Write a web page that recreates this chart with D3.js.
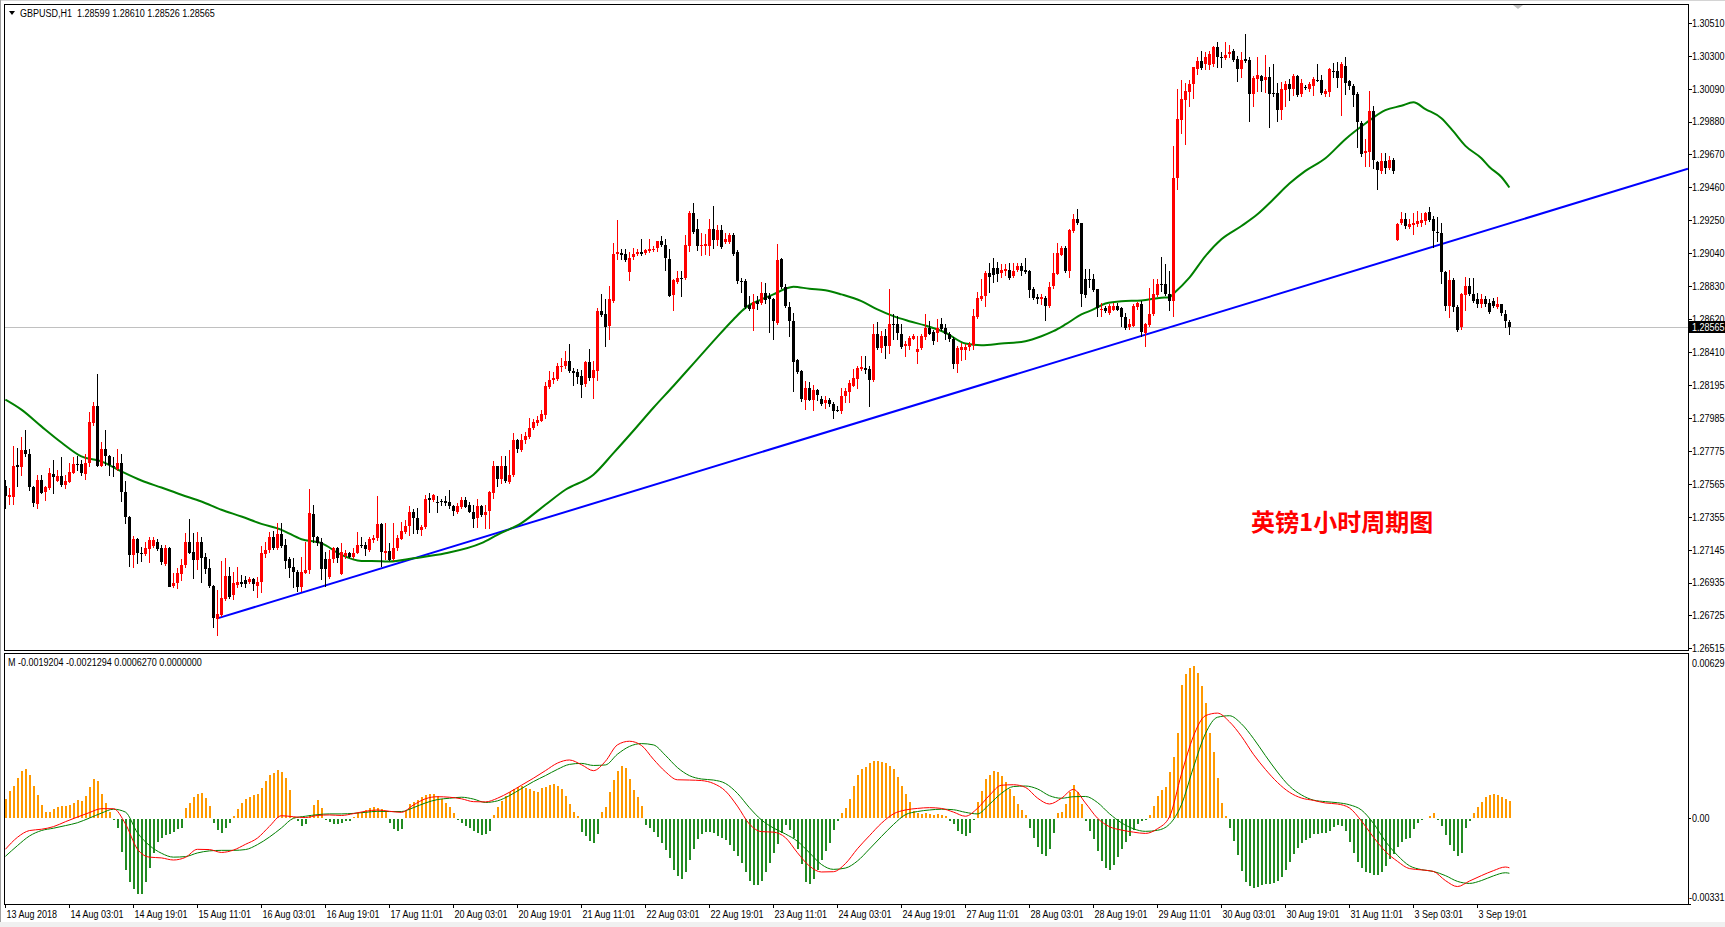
<!DOCTYPE html>
<html>
<head>
<meta charset="utf-8">
<script src="https://cdn.jsdelivr.net/npm/d3@7"></script>
<style>
  body { margin: 0; background: #fff; }
  svg { display: block; }
</style>
</head>
<body>
<svg id="chart" width="1725" height="927"></svg>
<script>
// GBPUSD H1 bars, 13 Aug 11:00 -> 4 Sep 03:00
const opens = [
1.27549,1.27481,1.27485,1.27688,1.27673,1.27779,1.27756,1.27543,1.27438,1.27592,
1.27511,1.27538,1.27630,1.27587,1.27617,1.27564,1.27581,1.27639,1.27694,1.27694,
1.27628,1.27698,1.27959,1.28065,1.27681,1.27788,1.27741,1.27681,1.27666,1.27698,
1.27511,1.27357,1.27112,1.27212,1.27127,1.27118,1.27148,1.27169,1.27197,1.27154,
1.27058,1.27159,1.26913,1.26930,1.26990,1.27048,1.27197,1.27133,1.27080,1.27197,
1.27097,1.27026,1.26913,1.26700,1.26728,1.26828,1.26977,1.26856,1.26920,1.26941,
1.26952,1.26939,1.26956,1.26913,1.26935,1.27118,1.27139,1.27229,1.27154,1.27246,
1.27176,1.27084,1.27033,1.27003,1.26909,1.26999,1.27011,1.27374,1.27229,1.27191,
1.27084,1.26969,1.27084,1.27154,1.26994,1.27101,1.27127,1.27101,1.27127,1.27176,
1.27174,1.27144,1.27208,1.27218,1.27310,1.27126,1.27139,1.27084,1.27154,1.27218,
1.27261,1.27293,1.27383,1.27346,1.27267,1.27289,1.27474,1.27463,1.27447,1.27459,
1.27453,1.27447,1.27421,1.27389,1.27417,1.27463,1.27432,1.27389,1.27346,1.27425,
1.27368,1.27389,1.27506,1.27677,1.27592,1.27677,1.27581,1.27617,1.27843,1.27784,
1.27843,1.27865,1.27922,1.27954,1.27971,1.28008,1.28189,1.28232,1.28236,1.28313,
1.28317,1.28349,1.28285,1.28279,1.28257,1.28200,1.28342,1.28242,1.28285,1.28669,
1.28654,1.28573,1.28733,1.29032,1.29042,1.29032,1.28921,1.29010,1.29032,1.29047,
1.29038,1.29053,1.29059,1.29068,1.29117,1.29089,1.29004,1.28769,1.28855,1.28882,
1.28876,1.29085,1.29298,1.29192,1.29081,1.29085,1.29085,1.29196,1.29123,1.29187,
1.29111,1.29111,1.29153,1.29047,1.28861,1.28861,1.28706,1.28680,1.28733,1.28722,
1.28786,1.28765,1.28744,1.28599,1.29004,1.28825,1.28697,1.28605,1.28355,1.28285,
1.28104,1.28178,1.28104,1.28163,1.28108,1.28078,1.28099,1.28078,1.28040,1.28035,
1.28125,1.28151,1.28189,1.28236,1.28300,1.28306,1.28300,1.28232,1.28526,1.28434,
1.28509,1.28445,1.28584,1.28584,1.28526,1.28441,1.28449,1.28492,1.28407,1.28434,
1.28505,1.28562,1.28534,1.28530,1.28590,1.28562,1.28520,1.28492,1.28334,1.28424,
1.28419,1.28434,1.28449,1.28633,1.28748,1.28765,1.28910,1.28946,1.28946,1.28910,
1.28925,1.28931,1.28893,1.28931,1.28957,1.28931,1.28925,1.28812,1.28761,1.28748,
1.28754,1.28701,1.28825,1.28910,1.29032,1.29074,1.28925,1.29181,1.29256,1.29230,
1.28876,1.28876,1.28876,1.28808,1.28680,1.28690,1.28658,1.28680,1.28705,1.28690,
1.28633,1.28562,1.28577,1.28690,1.28712,1.28531,1.28584,1.28648,1.28771,1.28844,
1.28844,1.28780,1.28737,1.29518,1.29889,1.30017,1.30066,1.30115,1.30216,1.30269,
1.30248,1.30243,1.30243,1.30354,1.30295,1.30286,1.30307,1.30329,1.30280,1.30216,
1.30280,1.30273,1.30056,1.30152,1.30173,1.30141,1.30167,1.30060,1.30060,1.29953,
1.30081,1.30120,1.30088,1.30173,1.30051,1.30098,1.30088,1.30109,1.30145,1.30145,
1.30060,1.30066,1.30205,1.30205,1.30158,1.30237,1.30137,1.30109,1.30056,1.29874,
1.29682,1.29682,1.29945,1.29619,1.29565,1.29629,1.29582,1.29633,1.29128,1.29228,
1.29256,1.29207,1.29224,1.29228,1.29228,1.29245,1.29305,1.29256,1.29177,1.29171,
1.28921,1.28701,1.28865,1.28695,1.28567,1.28771,1.28829,1.28780,1.28744,1.28712,
1.28744,1.28722,1.28733,1.28695,1.28712,1.28652,1.28599
];
const highs = [
1.27592,1.27538,1.27809,1.27794,1.27865,1.27907,1.27788,1.27553,1.27624,1.27624,
1.27553,1.27666,1.27720,1.27656,1.27737,1.27624,1.27702,1.27737,1.27745,1.27720,
1.27758,1.28027,1.28091,1.28270,1.27831,1.27907,1.27752,1.27737,1.27788,1.27754,
1.27581,1.27361,1.27233,1.27218,1.27161,1.27191,1.27229,1.27229,1.27212,1.27176,
1.27176,1.27165,1.26994,1.27026,1.27084,1.27250,1.27340,1.27250,1.27255,1.27225,
1.27127,1.27084,1.26920,1.26888,1.27075,1.27090,1.27037,1.27003,1.27033,1.26984,
1.26977,1.26969,1.26962,1.26969,1.27169,1.27197,1.27255,1.27267,1.27314,1.27314,
1.27212,1.27101,1.27090,1.27016,1.27101,1.27197,1.27532,1.27432,1.27233,1.27218,
1.27133,1.27144,1.27165,1.27165,1.27186,1.27144,1.27133,1.27154,1.27255,1.27229,
1.27197,1.27225,1.27240,1.27485,1.27318,1.27314,1.27186,1.27314,1.27239,1.27325,
1.27335,1.27425,1.27404,1.27410,1.27304,1.27496,1.27506,1.27502,1.27485,1.27468,
1.27485,1.27528,1.27432,1.27442,1.27480,1.27480,1.27447,1.27432,1.27468,1.27432,
1.27432,1.27517,1.27709,1.27681,1.27745,1.27741,1.27784,1.27890,1.27852,1.27886,
1.27895,1.27986,1.27980,1.28001,1.28040,1.28214,1.28285,1.28279,1.28338,1.28370,
1.28413,1.28456,1.28306,1.28300,1.28296,1.28349,1.28428,1.28349,1.28690,1.28776,
1.28744,1.28829,1.29106,1.29251,1.29064,1.29068,1.29047,1.29074,1.29068,1.29132,
1.29068,1.29128,1.29085,1.29117,1.29149,1.29128,1.29064,1.28876,1.28925,1.28925,
1.29153,1.29309,1.29362,1.29260,1.29170,1.29160,1.29260,1.29341,1.29217,1.29217,
1.29170,1.29170,1.29166,1.29059,1.28882,1.28872,1.28765,1.28776,1.28769,1.28855,
1.28850,1.28786,1.28754,1.29096,1.29010,1.28840,1.28727,1.28658,1.28364,1.28291,
1.28221,1.28215,1.28200,1.28172,1.28125,1.28125,1.28114,1.28087,1.28065,1.28178,
1.28178,1.28232,1.28300,1.28321,1.28385,1.28381,1.28317,1.28584,1.28599,1.28541,
1.28552,1.28808,1.28648,1.28637,1.28590,1.28477,1.28513,1.28520,1.28509,1.28520,
1.28648,1.28605,1.28547,1.28620,1.28626,1.28584,1.28534,1.28505,1.28449,1.28466,
1.28462,1.28471,1.28680,1.28791,1.28872,1.28925,1.28978,1.29010,1.28983,1.28968,
1.28968,1.28974,1.28978,1.28974,1.28978,1.29010,1.28931,1.28825,1.28776,1.28776,
1.28765,1.28855,1.29042,1.29102,1.29085,1.29085,1.29196,1.29288,1.29320,1.29234,
1.28940,1.28936,1.28904,1.28812,1.28718,1.28701,1.28712,1.28718,1.28718,1.28697,
1.28658,1.28616,1.28712,1.28727,1.28733,1.28595,1.28818,1.28872,1.28872,1.29015,
1.28968,1.28925,1.29725,1.30088,1.30145,1.30124,1.30145,1.30231,1.30290,1.30333,
1.30322,1.30333,1.30365,1.30386,1.30322,1.30386,1.30371,1.30344,1.30301,1.30322,
1.30440,1.30290,1.30173,1.30290,1.30179,1.30307,1.30226,1.30248,1.30124,1.30130,
1.30141,1.30152,1.30184,1.30179,1.30152,1.30115,1.30130,1.30162,1.30248,1.30179,
1.30088,1.30222,1.30252,1.30258,1.30258,1.30290,1.30145,1.30120,1.30066,1.29885,
1.29767,1.30077,1.29981,1.29629,1.29682,1.29682,1.29661,1.29646,1.29234,1.29305,
1.29298,1.29256,1.29298,1.29309,1.29298,1.29305,1.29335,1.29277,1.29271,1.29234,
1.28925,1.28929,1.28878,1.28707,1.28786,1.28886,1.28882,1.28878,1.28786,1.28780,
1.28765,1.28744,1.28750,1.28759,1.28716,1.28674,1.28610
];
const lows = [
1.27410,1.27438,1.27438,1.27549,1.27624,1.27741,1.27528,1.27421,1.27410,1.27506,
1.27464,1.27532,1.27506,1.27581,1.27553,1.27538,1.27575,1.27634,1.27656,1.27624,
1.27596,1.27681,1.27944,1.27677,1.27677,1.27688,1.27624,1.27613,1.27656,1.27453,
1.27314,1.27041,1.27033,1.27063,1.27075,1.27112,1.27069,1.27165,1.27144,1.27054,
1.27048,1.26910,1.26909,1.26898,1.26952,1.27037,1.27122,1.26962,1.27020,1.26941,
1.26994,1.26909,1.26653,1.26600,1.26721,1.26824,1.26834,1.26828,1.26909,1.26913,
1.26909,1.26935,1.26888,1.26841,1.26877,1.27101,1.27133,1.27148,1.27148,1.27165,
1.27026,1.26969,1.26909,1.26883,1.26883,1.26994,1.26994,1.27197,1.27176,1.26956,
1.26913,1.26962,1.27069,1.27069,1.26990,1.27090,1.27097,1.27090,1.27122,1.27165,
1.27112,1.27139,1.27191,1.27208,1.27041,1.27084,1.27079,1.27079,1.27144,1.27212,
1.27250,1.27239,1.27250,1.27250,1.27239,1.27282,1.27389,1.27453,1.27389,1.27432,
1.27432,1.27410,1.27368,1.27378,1.27410,1.27417,1.27383,1.27289,1.27289,1.27361,
1.27282,1.27282,1.27474,1.27549,1.27570,1.27575,1.27570,1.27613,1.27767,1.27773,
1.27826,1.27858,1.27916,1.27944,1.27965,1.27986,1.28178,1.28210,1.28232,1.28285,
1.28306,1.28279,1.28200,1.28210,1.28121,1.28189,1.28232,1.28114,1.28227,1.28637,
1.28445,1.28488,1.28727,1.29000,1.29000,1.28989,1.28867,1.29004,1.29025,1.29025,
1.29032,1.29047,1.29053,1.29053,1.29085,1.28931,1.28765,1.28675,1.28850,1.28769,
1.28872,1.29053,1.29170,1.29059,1.29025,1.29032,1.29025,1.29074,1.29089,1.29074,
1.29102,1.29106,1.29025,1.28850,1.28791,1.28690,1.28675,1.28547,1.28680,1.28712,
1.28722,1.28534,1.28492,1.28590,1.28818,1.28697,1.28513,1.28157,1.28274,1.28097,
1.28044,1.28099,1.28035,1.28104,1.28072,1.28050,1.28065,1.27986,1.28029,1.28018,
1.28087,1.28087,1.28189,1.28178,1.28296,1.28274,1.28065,1.28221,1.28428,1.28407,
1.28370,1.28402,1.28492,1.28488,1.28434,1.28385,1.28428,1.28488,1.28338,1.28428,
1.28492,1.28520,1.28456,1.28477,1.28547,1.28488,1.28477,1.28306,1.28278,1.28360,
1.28364,1.28424,1.28428,1.28626,1.28739,1.28705,1.28791,1.28855,1.28861,1.28889,
1.28897,1.28876,1.28889,1.28925,1.28897,1.28910,1.28761,1.28744,1.28718,1.28712,
1.28611,1.28697,1.28818,1.28904,1.29025,1.28919,1.28889,1.29175,1.29224,1.28701,
1.28761,1.28825,1.28797,1.28641,1.28637,1.28663,1.28654,1.28675,1.28675,1.28573,
1.28556,1.28556,1.28573,1.28684,1.28509,1.28445,1.28573,1.28643,1.28765,1.28797,
1.28771,1.28674,1.28637,1.29448,1.29810,1.29736,1.29981,1.30034,1.30184,1.30216,
1.30216,1.30216,1.30237,1.30231,1.30226,1.30280,1.30295,1.30269,1.30141,1.30167,
1.30258,1.29885,1.29981,1.30077,1.30077,1.30066,1.29847,1.30045,1.29881,1.29896,
1.29981,1.30017,1.30051,1.30045,1.30045,1.30088,1.30077,1.30051,1.30137,1.30056,
1.30045,1.30045,1.30162,1.30098,1.29923,1.30056,1.30088,1.29981,1.29719,1.29661,
1.29597,1.29597,1.29586,1.29448,1.29554,1.29554,1.29576,1.29554,1.29121,1.29224,
1.29202,1.29198,1.29164,1.29213,1.29213,1.29228,1.29245,1.29079,1.29117,1.28850,
1.28674,1.28631,1.28669,1.28541,1.28552,1.28674,1.28771,1.28729,1.28695,1.28695,
1.28701,1.28658,1.28695,1.28686,1.28643,1.28567,1.28526
];
const closes = [
1.27485,1.27496,1.27681,1.27673,1.27779,1.27756,1.27543,1.27438,1.27592,1.27511,
1.27543,1.27634,1.27609,1.27617,1.27560,1.27587,1.27643,1.27694,1.27690,1.27634,
1.27698,1.27963,1.28065,1.27681,1.27788,1.27741,1.27681,1.27677,1.27702,1.27511,
1.27351,1.27112,1.27212,1.27122,1.27118,1.27154,1.27208,1.27208,1.27154,1.27063,
1.27159,1.26913,1.26935,1.26994,1.27048,1.27197,1.27127,1.27080,1.27197,1.27097,
1.27020,1.26913,1.26706,1.26734,1.26834,1.26977,1.26845,1.26935,1.26939,1.26930,
1.26926,1.26956,1.26926,1.26941,1.27122,1.27144,1.27225,1.27161,1.27246,1.27169,
1.27075,1.27026,1.26999,1.26909,1.27005,1.27016,1.27378,1.27229,1.27191,1.27020,
1.27020,1.27084,1.27154,1.27090,1.27133,1.27122,1.27101,1.27127,1.27176,1.27172,
1.27148,1.27212,1.27222,1.27310,1.27133,1.27139,1.27084,1.27154,1.27218,1.27267,
1.27297,1.27383,1.27346,1.27267,1.27289,1.27468,1.27463,1.27496,1.27438,1.27455,
1.27442,1.27421,1.27389,1.27425,1.27463,1.27421,1.27389,1.27346,1.27421,1.27368,
1.27389,1.27511,1.27677,1.27592,1.27677,1.27581,1.27624,1.27843,1.27784,1.27848,
1.27869,1.27922,1.27958,1.27976,1.28014,1.28193,1.28232,1.28242,1.28317,1.28321,
1.28349,1.28285,1.28270,1.28249,1.28200,1.28342,1.28242,1.28296,1.28669,1.28641,
1.28573,1.28744,1.29032,1.29047,1.29032,1.28995,1.29010,1.29032,1.29047,1.29032,
1.29057,1.29064,1.29068,1.29115,1.29089,1.29004,1.28769,1.28867,1.28882,1.28876,
1.29089,1.29298,1.29175,1.29081,1.29089,1.29096,1.29196,1.29128,1.29187,1.29081,
1.29128,1.29153,1.29032,1.28861,1.28859,1.28698,1.28680,1.28727,1.28712,1.28786,
1.28744,1.28744,1.28605,1.28999,1.28825,1.28701,1.28605,1.28343,1.28278,1.28104,
1.28178,1.28104,1.28168,1.28129,1.28078,1.28099,1.28072,1.28035,1.28035,1.28129,
1.28157,1.28210,1.28242,1.28306,1.28313,1.28291,1.28232,1.28526,1.28434,1.28509,
1.28445,1.28584,1.28580,1.28526,1.28445,1.28456,1.28498,1.28509,1.28428,1.28509,
1.28562,1.28526,1.28477,1.28562,1.28556,1.28526,1.28488,1.28334,1.28434,1.28441,
1.28441,1.28456,1.28637,1.28754,1.28769,1.28910,1.28882,1.28904,1.28910,1.28931,
1.28936,1.28882,1.28925,1.28957,1.28925,1.28919,1.28803,1.28754,1.28748,1.28761,
1.28701,1.28825,1.28910,1.29042,1.29074,1.28925,1.29187,1.29256,1.29230,1.28776,
1.28776,1.28872,1.28803,1.28684,1.28684,1.28669,1.28701,1.28705,1.28680,1.28633,
1.28562,1.28584,1.28705,1.28718,1.28530,1.28588,1.28652,1.28776,1.28844,1.28840,
1.28780,1.28737,1.29522,1.29896,1.30024,1.30077,1.30120,1.30226,1.30269,1.30226,
1.30290,1.30312,1.30354,1.30290,1.30293,1.30307,1.30322,1.30273,1.30216,1.30273,
1.30265,1.30056,1.30158,1.30179,1.30141,1.30162,1.30056,1.30056,1.29953,1.30088,
1.30120,1.30088,1.30173,1.30051,1.30124,1.30094,1.30120,1.30152,1.30141,1.30060,
1.30077,1.30216,1.30201,1.30158,1.30248,1.30130,1.30103,1.30051,1.29874,1.29676,
1.29693,1.29945,1.29629,1.29565,1.29629,1.29582,1.29633,1.29565,1.29228,1.29256,
1.29213,1.29224,1.29234,1.29245,1.29250,1.29298,1.29256,1.29177,1.29175,1.28921,
1.28701,1.28865,1.28695,1.28546,1.28776,1.28829,1.28780,1.28737,1.28712,1.28744,
1.28712,1.28665,1.28701,1.28716,1.28652,1.28605,1.28565
];

// moving average (green), read at these bars
const maBars = [0,4,9,14,19,24,29,34,39,44,49,54,59,64,69,74,79,84,89,94,96,102,110,119,123,129,135,140,147,152,157,162,167,172,177,182,185,189,192,195,197,201,205,209,214,218,222,226,230,235,240,244,249,255,259,262,265,269,272,275,279,284,289,291,292,296,300,304,309,313,317,321,325,330,335,340,345,349,352,355,359,362,365,369,371,374,376];
const maValues = [1.28104,1.28040,1.27933,1.27830,1.27741,1.27709,1.27645,1.27587,1.27542,1.27496,1.27453,1.27400,1.27357,1.27310,1.27272,1.27212,1.27187,1.27112,1.27073,1.27071,1.27069,1.27090,1.27122,1.27187,1.27240,1.27315,1.27432,1.27528,1.27624,1.27762,1.27905,1.28052,1.28191,1.28334,1.28477,1.28616,1.28690,1.28744,1.28776,1.28812,1.28825,1.28812,1.28803,1.28776,1.28733,1.28680,1.28637,1.28605,1.28577,1.28531,1.28462,1.28451,1.28462,1.28477,1.28509,1.28541,1.28584,1.28648,1.28680,1.28718,1.28733,1.28737,1.28755,1.28758,1.28780,1.28883,1.29021,1.29128,1.29213,1.29288,1.29384,1.29484,1.29565,1.29646,1.29768,1.29868,1.29953,1.29981,1.30003,1.29960,1.29902,1.29817,1.29725,1.29646,1.29590,1.29526,1.29459];

// blue trend line anchors
const trendBars = [53, 376];
const trendPrices = [1.26706, 1.29230];

// MACD histogram, one value per bar
const histValues = [
0.00072,0.00102,0.00124,0.00151,0.00178,0.00189,0.00166,0.00122,0.00087,0.00051,
0.00024,0.00024,0.00032,0.00040,0.00045,0.00047,0.00050,0.00058,0.00067,0.00065,
0.00084,0.00120,0.00150,0.00141,0.00093,0.00055,0.00023,-0.00005,-0.00035,-0.00127,
-0.00196,-0.00242,-0.00270,-0.00288,-0.00288,-0.00241,-0.00188,-0.00133,-0.00090,-0.00072,
-0.00061,-0.00058,-0.00051,-0.00041,-0.00035,0.00036,0.00056,0.00078,0.00093,0.00095,
0.00077,0.00047,-0.00015,-0.00044,-0.00054,-0.00036,-0.00015,0.00008,0.00032,0.00055,
0.00072,0.00081,0.00087,0.00092,0.00113,0.00140,0.00163,0.00173,0.00182,0.00174,
0.00154,0.00106,0.00004,-0.00009,-0.00029,-0.00019,0.00012,0.00049,0.00068,0.00037,
-0.00003,-0.00014,-0.00020,-0.00020,-0.00015,-0.00010,-0.00008,0.00004,0.00018,0.00023,
0.00029,0.00038,0.00040,0.00036,0.00033,0.00023,-0.00015,-0.00038,-0.00047,-0.00041,
0.00026,0.00052,0.00060,0.00069,0.00078,0.00086,0.00093,0.00091,0.00084,0.00072,
0.00056,0.00040,0.00020,-0.00003,-0.00017,-0.00027,-0.00037,-0.00047,-0.00056,-0.00061,
-0.00059,-0.00047,0.00010,0.00042,0.00063,0.00083,0.00099,0.00109,0.00119,0.00124,
0.00116,0.00109,0.00104,0.00101,0.00113,0.00118,0.00125,0.00128,0.00123,0.00110,
0.00083,0.00052,0.00024,0.00008,-0.00051,-0.00067,-0.00087,-0.00092,-0.00060,0.00022,
0.00042,0.00101,0.00146,0.00180,0.00198,0.00192,0.00150,0.00108,0.00078,0.00045,
-0.00022,-0.00037,-0.00052,-0.00068,-0.00092,-0.00118,-0.00150,-0.00196,-0.00221,-0.00230,
-0.00204,-0.00159,-0.00116,-0.00076,-0.00058,-0.00050,-0.00050,-0.00056,-0.00067,-0.00072,
-0.00082,-0.00102,-0.00124,-0.00142,-0.00169,-0.00205,-0.00238,-0.00255,-0.00253,-0.00237,
-0.00205,-0.00169,-0.00132,-0.00095,-0.00054,-0.00022,-0.00042,-0.00072,-0.00115,-0.00175,
-0.00241,-0.00251,-0.00233,-0.00198,-0.00159,-0.00123,-0.00092,-0.00044,-0.00009,0.00017,
0.00036,0.00074,0.00122,0.00163,0.00186,0.00196,0.00209,0.00218,0.00219,0.00214,
0.00210,0.00200,0.00187,0.00157,0.00124,0.00092,0.00061,0.00027,0.00017,0.00014,
0.00017,0.00014,0.00010,0.00013,0.00009,0.00006,-0.00009,-0.00019,-0.00045,-0.00060,
-0.00065,-0.00054,-0.00003,0.00060,0.00102,0.00150,0.00166,0.00178,0.00177,0.00160,
0.00136,0.00109,0.00083,0.00054,0.00029,0.00010,-0.00035,-0.00072,-0.00108,-0.00136,
-0.00142,-0.00115,-0.00054,0.00017,0.00023,0.00054,0.00100,0.00125,0.00099,0.00052,
-0.00009,-0.00046,-0.00079,-0.00122,-0.00163,-0.00188,-0.00195,-0.00179,-0.00148,-0.00116,
-0.00090,-0.00067,-0.00044,-0.00020,-0.00009,-0.00003,0.00010,0.00045,0.00082,0.00108,
0.00118,0.00177,0.00234,0.00324,0.00509,0.00554,0.00577,0.00584,0.00557,0.00506,
0.00439,0.00324,0.00253,0.00151,0.00058,0.00008,-0.00035,-0.00087,-0.00140,-0.00201,
-0.00241,-0.00259,-0.00265,-0.00260,-0.00255,-0.00252,-0.00251,-0.00246,-0.00239,-0.00223,
-0.00196,-0.00164,-0.00134,-0.00113,-0.00092,-0.00082,-0.00072,-0.00060,-0.00058,-0.00054,
-0.00054,-0.00045,-0.00031,-0.00023,-0.00028,-0.00047,-0.00088,-0.00131,-0.00164,-0.00189,
-0.00205,-0.00210,-0.00216,-0.00216,-0.00204,-0.00182,-0.00156,-0.00134,-0.00110,-0.00088,
-0.00079,-0.00073,-0.00041,-0.00018,-0.00006,0,0.00006,0.00020,-0.00003,-0.00028,
-0.00061,-0.00101,-0.00122,-0.00143,-0.00131,-0.00035,-0.00009,0.00017,0.00040,0.00060,
0.00081,0.00086,0.00090,0.00088,0.00081,0.00074,0.00063
];

// MACD (red) and signal (green) lines, read every third bar
const lineBars = d3.range(0, 376, 3).concat([376]);
const macdValues = [
-0.00121,-0.00075,-0.00049,-0.00044,-0.00034,-0.00015,0.00003,0.00020,0.00035,0.00035,
-0.00023,-0.00120,-0.00151,-0.00154,-0.00162,-0.00152,-0.00121,-0.00122,-0.00133,-0.00124,
-0.00102,-0.00078,-0.00033,0.00008,0.00004,0.00001,0.00009,0.00011,0.00009,0.00016,
0.00025,0.00030,0.00025,0.00021,0.00049,0.00073,0.00081,0.00079,0.00073,0.00062,
0.00061,0.00075,0.00098,0.00125,0.00152,0.00181,0.00210,0.00222,0.00204,0.00181,
0.00217,0.00280,0.00294,0.00278,0.00225,0.00177,0.00146,0.00145,0.00143,0.00132,
0.00103,0.00045,-0.00024,-0.00053,-0.00055,-0.00076,-0.00134,-0.00185,-0.00208,-0.00207,
-0.00176,-0.00119,-0.00069,-0.00021,0.00015,0.00030,0.00036,0.00039,0.00036,0.00022,
0.00006,0.00036,0.00086,0.00125,0.00127,0.00117,0.00076,0.00053,0.00075,0.00109,
0.00057,-0.00001,-0.00034,-0.00047,-0.00055,-0.00060,-0.00042,0.00003,0.00167,0.00313,
0.00392,0.00402,0.00369,0.00313,0.00244,0.00186,0.00136,0.00098,0.00076,0.00067,
0.00057,0.00053,0.00038,-0.00012,-0.00074,-0.00129,-0.00167,-0.00195,-0.00200,-0.00206,
-0.00241,-0.00264,-0.00243,-0.00222,-0.00203,-0.00189,-0.00192
];
const signalValues = [
-0.00148,-0.00107,-0.00070,-0.00049,-0.00040,-0.00030,-0.00019,-0.00001,0.00018,0.00033,
0.00022,-0.00057,-0.00106,-0.00136,-0.00151,-0.00149,-0.00135,-0.00127,-0.00125,-0.00125,
-0.00122,-0.00103,-0.00074,-0.00039,-0.00002,0.00006,0.00012,0.00015,0.00015,0.00017,
0.00021,0.00025,0.00024,0.00024,0.00039,0.00057,0.00070,0.00075,0.00079,0.00072,
0.00059,0.00065,0.00085,0.00112,0.00139,0.00162,0.00186,0.00205,0.00209,0.00201,
0.00203,0.00244,0.00274,0.00285,0.00280,0.00240,0.00193,0.00162,0.00149,0.00145,
0.00132,0.00094,0.00039,-0.00008,-0.00039,-0.00062,-0.00090,-0.00134,-0.00179,-0.00198,
-0.00193,-0.00166,-0.00120,-0.00072,-0.00026,0.00012,0.00024,0.00030,0.00033,0.00031,
0.00021,0.00015,0.00052,0.00094,0.00120,0.00122,0.00111,0.00085,0.00075,0.00081,
0.00082,0.00059,0.00016,-0.00019,-0.00042,-0.00052,-0.00048,-0.00025,0.00050,0.00193,
0.00323,0.00386,0.00392,0.00361,0.00305,0.00239,0.00176,0.00122,0.00088,0.00068,
0.00062,0.00058,0.00050,0.00030,-0.00021,-0.00090,-0.00144,-0.00184,-0.00199,-0.00206,
-0.00222,-0.00244,-0.00252,-0.00241,-0.00223,-0.00211,-0.00213
];

const priceTicks = [1.30510,1.30300,1.30090,1.29880,1.29670,1.29460,1.29250,1.29040,1.28830,1.28620,1.28410,1.28195,1.27985,1.27775,1.27565,1.27355,1.27145,1.26935,1.26725,1.26515];
const macdTicks = [0.00629, 0, -0.00331];
const macdTickLabels = ["0.00629", "0.00", "-0.00331"];

const timeTickBars = [0,16,32,48,64,80,96,112,128,144,160,176,192,208,224,240,256,272,288,304,320,336,352,368];
const timeTickLabels = ["13 Aug 2018","14 Aug 03:01","14 Aug 19:01","15 Aug 11:01","16 Aug 03:01","16 Aug 19:01","17 Aug 11:01","20 Aug 03:01","20 Aug 19:01","21 Aug 11:01","22 Aug 03:01","22 Aug 19:01","23 Aug 11:01","24 Aug 03:01","24 Aug 19:01","27 Aug 11:01","28 Aug 03:01","28 Aug 19:01","29 Aug 11:01","30 Aug 03:01","30 Aug 19:01","31 Aug 11:01","3 Sep 03:01","3 Sep 19:01"];

// layout
const W = 1725, H = 927;
const left = 4, right = 1688;
const mainTop = 4, mainBottom = 650;
const macdTop = 653, macdBottom = 904;

const svg = d3.select("#chart").attr("width", W).attr("height", H)
  .style("font-family", "'Liberation Sans', Arial, sans-serif");

svg.append("rect").attr("width", W).attr("height", H).attr("fill", "#fff");

// scales
const x = d3.scaleLinear().domain([0, 376]).range([5.4, 1509.4]);
const y = d3.scaleLinear().domain([1.26515, 1.30510]).range([648.3, 23]);
const ym = d3.scaleLinear().domain([-0.00331, 0.00629]).range([904, 654]);
const px = i => Math.floor(x(i)) + 0.5;

// narrow text, like the terminal's small font
function label(g, tx, ty, str, fill, mid) {
  const t = g.append("text")
    .attr("transform", `translate(${tx},${ty}) scale(0.82,1)`)
    .attr("font-size", 11).attr("fill", fill || "#000").text(str);
  if (mid) t.attr("dy", "0.35em");
  return t;
}

// window edges
svg.append("line").attr("x1", 0).attr("x2", W).attr("y1", 0.5).attr("y2", 0.5).attr("stroke", "#d4d4d4");
svg.append("line").attr("x1", 0.5).attr("x2", 0.5).attr("y1", 0).attr("y2", H).attr("stroke", "#a0a0a0");
svg.append("rect").attr("x", 0).attr("y", 922).attr("width", W).attr("height", 5).attr("fill", "#f0f0f0");

// panel frames
svg.append("rect").attr("x", left + 0.5).attr("y", mainTop + 0.5)
  .attr("width", right - left).attr("height", mainBottom - mainTop)
  .attr("fill", "none").attr("stroke", "#000");
svg.append("rect").attr("x", left + 0.5).attr("y", macdTop + 0.5)
  .attr("width", right - left).attr("height", macdBottom - macdTop)
  .attr("fill", "none").attr("stroke", "#000");

svg.append("clipPath").attr("id", "clipMain").append("rect")
  .attr("x", left + 1).attr("y", mainTop + 1).attr("width", right - left - 1).attr("height", mainBottom - mainTop - 1);

// price axis
const pAxis = svg.append("g");
priceTicks.forEach(v => {
  pAxis.append("line").attr("x1", right).attr("x2", right + 4)
    .attr("y1", Math.round(y(v)) + 0.5).attr("y2", Math.round(y(v)) + 0.5).attr("stroke", "#000");
  label(pAxis, right + 4, y(v), v.toFixed(5), "#000", true);
});

// current price line + label
const last = closes[closes.length - 1];
svg.append("line").attr("x1", left + 1).attr("x2", right)
  .attr("y1", Math.round(y(last)) + 0.5).attr("y2", Math.round(y(last)) + 0.5)
  .attr("stroke", "#c0c0c0");
svg.append("rect").attr("x", right + 1).attr("y", Math.round(y(last)) - 6).attr("width", W - right).attr("height", 12).attr("fill", "#000");
label(svg, right + 4, y(last), last.toFixed(5), "#fff", true);

const main = svg.append("g").attr("clip-path", "url(#clipMain)");

// trend line (blue)
const slope = (trendPrices[1] - trendPrices[0]) / (trendBars[1] - trendBars[0]);
const endBar = x.invert(right);
main.append("line")
  .attr("x1", x(trendBars[0])).attr("y1", y(trendPrices[0]))
  .attr("x2", x(endBar)).attr("y2", y(trendPrices[0] + slope * (endBar - trendBars[0])))
  .attr("stroke", "#0000ff").attr("stroke-width", 2);

// moving average (green)
main.append("path")
  .attr("d", d3.line().x((d, k) => x(maBars[k])).y(d => y(d)).curve(d3.curveMonotoneX)(maValues))
  .attr("fill", "none").attr("stroke", "#008000").attr("stroke-width", 2);

// candles
const col = i => closes[i] >= opens[i] ? "#ff0000" : "#000000";
const candle = main.append("g").selectAll("g").data(d3.range(opens.length)).join("g");
candle.append("line")
  .attr("x1", px).attr("x2", px)
  .attr("y1", i => Math.round(y(highs[i]))).attr("y2", i => Math.round(y(lows[i])) + 1)
  .attr("stroke", col).attr("shape-rendering", "crispEdges");
candle.append("rect")
  .attr("x", i => px(i) - 1.5).attr("width", 3)
  .attr("y", i => Math.round(y(Math.max(opens[i], closes[i]))))
  .attr("height", i => Math.max(1, Math.round(Math.abs(y(opens[i]) - y(closes[i])))))
  .attr("fill", col).attr("shape-rendering", "crispEdges");

// header
svg.append("path").attr("d", "M9,11 L15,11 L12,15 Z").attr("fill", "#000");
label(svg, 20, 17, "GBPUSD,H1  1.28599 1.28610 1.28526 1.28565").attr("xml:space", "preserve");

// chart shift marker
svg.append("path").attr("d", "M1513,5 L1523,5 L1518,9 Z").attr("fill", "#c0c0c0");

// Chinese caption
svg.append("text").attr("x", 1251).attr("y", 531)
  .attr("font-family", "'Noto Sans CJK SC', sans-serif").attr("font-weight", "bold")
  .attr("font-size", 24).attr("fill", "#ff0000").text("英镑1小时周期图");

// ---- MACD panel ----
const sub = svg.append("g");
sub.append("clipPath").attr("id", "clipMacd").append("rect")
  .attr("x", left + 1).attr("y", macdTop + 1).attr("width", right - left - 1).attr("height", macdBottom - macdTop - 1);
const subPlot = sub.append("g").attr("clip-path", "url(#clipMacd)");

const y0 = Math.round(ym(0));
subPlot.append("g").selectAll("rect").data(d3.range(histValues.length).filter(i => histValues[i] !== 0)).join("rect")
  .attr("x", i => Math.floor(x(i)) - 0.5).attr("width", 2)
  .attr("y", i => histValues[i] > 0 ? Math.round(ym(histValues[i])) : y0 + 1)
  .attr("height", i => Math.max(1, Math.abs(Math.round(ym(histValues[i])) - y0)))
  .attr("fill", i => histValues[i] > 0 ? "#ff9900" : "#228b22")
  .attr("shape-rendering", "crispEdges");

const subLine = vals => d3.line().x((d, k) => x(lineBars[k])).y(d => ym(d)).curve(d3.curveMonotoneX)(vals);
subPlot.append("path").attr("d", subLine(signalValues)).attr("fill", "none").attr("stroke", "#008000").attr("stroke-width", 1);
subPlot.append("path").attr("d", subLine(macdValues)).attr("fill", "none").attr("stroke", "#ff0000").attr("stroke-width", 1);

macdTicks.forEach((v, k) => {
  if (k > 0) sub.append("line").attr("x1", right).attr("x2", right + 3)
    .attr("y1", Math.round(ym(v)) + 0.5).attr("y2", Math.round(ym(v)) + 0.5).attr("stroke", "#000");
  const lx = macdTickLabels[k].startsWith("-") ? right + 1 : right + 4;
  label(sub, lx, Math.min(897, Math.max(663, ym(v))), macdTickLabels[k], "#000", true);
});
label(sub, 8, 666, "M -0.0019204 -0.0021294 0.0006270 0.0000000");

// time axis
timeTickBars.forEach((b, k) => {
  svg.append("line").attr("x1", px(b)).attr("x2", px(b)).attr("y1", macdBottom).attr("y2", macdBottom + 4)
    .attr("stroke", "#000");
  label(svg, px(b) + 1, 918, timeTickLabels[k]);
});
</script>
</body>
</html>
